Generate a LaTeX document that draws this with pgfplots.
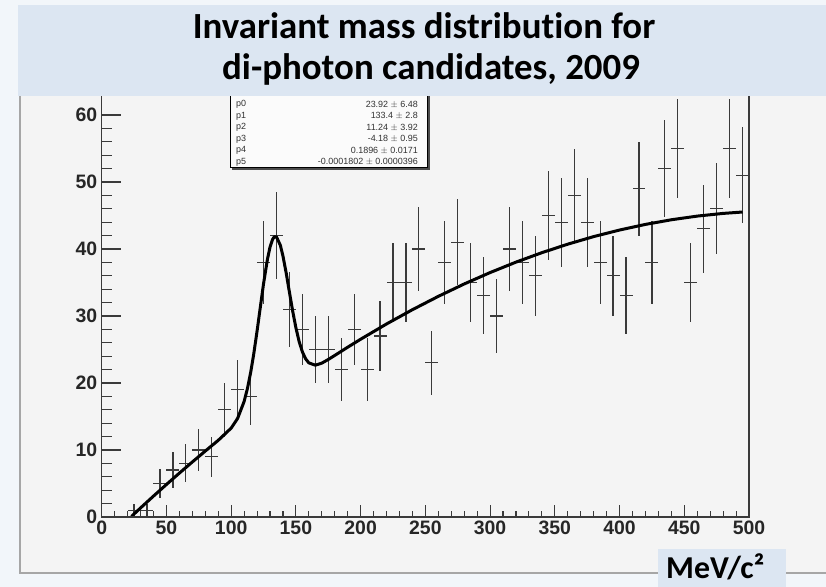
\documentclass[border=0pt]{standalone}
\usepackage{pgfplots}
\pgfplotsset{compat=1.18}
\usepackage{pgfplotstable}
\usepackage{fontspec}
\setmainfont{Liberation Sans}
\newfontfamily\carlito[Ligatures=NoCommon]{Carlito}
\definecolor{banner}{HTML}{DCE6F2}
\definecolor{canvas}{HTML}{F4F4F4}
\definecolor{slide}{HTML}{F2F6FA}
\definecolor{ink}{HTML}{3A3A3A}

\pgfplotstableread{
x y ex ey
25 1 5 1
35 1 5 1
45 5 5 2.236
55 7 5 2.646
65 8 5 2.828
75 10 5 3.162
85 9 5 3
95 16 5 4
105 19 5 4.359
115 18 5 4.243
125 38 5 6.164
135 42 5 6.481
145 31 5 5.568
155 28 5 5.292
165 25 5 5
175 25 5 5
185 22 5 4.690
195 28 5 5.292
205 22 5 4.690
215 27 5 5.196
225 35 5 5.916
235 35 5 5.916
245 40 5 6.325
255 23 5 4.796
265 38 5 6.164
275 41 5 6.403
285 35 5 5.916
295 33 5 5.745
305 30 5 5.477
315 40 5 6.325
325 38 5 6.164
335 36 5 6
345 45 5 6.708
355 44 5 6.633
365 48 5 6.928
375 44 5 6.633
385 38 5 6.164
395 36 5 6
405 33 5 5.745
415 49 5 7
425 38 5 6.164
435 52 5 7.211
445 55 5 7.416
455 35 5 5.916
465 43 5 6.557
475 46 5 6.782
485 55 5 7.416
495 51 5 7.141
}\histdata

\pgfplotstableread{
x y
23 0.09
25 0.45
30 1.35
40 3.12
50 4.85
60 6.55
70 8.21
80 9.84
90 11.44
100 13.27
105 14.72
110 17.24
112.5 19.12
115 21.51
117.5 24.41
120 27.73
122.5 31.29
125 34.80
128 38.45
130 40.27
132 41.44
133.4 41.83
135 41.81
138 40.55
140 38.96
142.5 36.42
145 33.56
147.5 30.75
150 28.25
152.5 26.19
155 24.65
157.5 23.61
160 23.00
165 22.66
170 22.96
175 23.51
180 24.11
190 25.34
200 26.53
220 28.81
240 30.94
260 32.93
280 34.78
300 36.48
320 38.04
340 39.45
360 40.72
380 41.85
400 42.83
420 43.67
440 44.36
460 44.91
480 45.31
495 45.52
}\fitdata

\begin{document}
\begin{tikzpicture}[x=1bp,y=1bp]
\useasboundingbox (0,0) rectangle (826,587);
\fill[slide] (0,0) rectangle (826,587);
% canvas
\fill[canvas] (19,14) rectangle (826,582);
\draw[gray!70, line width=1.5bp] (20,500) -- (20,14) -- (826,14);

\pgfplotsset{
  rootaxis/.style={
    at={(101.7bp,70bp)}, anchor=south west,
    scale only axis, width=647.3bp, height=442.2bp,
    xmin=0, xmax=500, ymin=0, ymax=66,
    axis line style={line width=1.2bp, color=ink},
    tick style={line width=1.1bp, color=ink},
    tick pos=left, tick align=inside,
    /pgf/number format/assume math mode=true,
    ticklabel style={font=\bfseries\fontsize{19.5}{19.5}\selectfont, color=black!85},
  }
}
\begin{axis}[rootaxis,
  xtick=\empty,
  ytick={0,10,...,60}, minor y tick num=4,
  major tick length=19bp, minor tick length=10bp,
  yticklabel style={xshift=-1bp},
]
\addplot[draw=none, mark=none, forget plot,
  error bars/.cd, x dir=both, x explicit, y dir=both, y explicit,
  error mark=none, error bar style={draw=ink, line width=1.2bp}]
  table[x=x, y=y, x error=ex, y error=ey] {\histdata};
\addplot[black, line width=3bp, line join=round, mark=none] table[x=x, y=y] {\fitdata};
\end{axis}
\begin{axis}[rootaxis,
  ytick=\empty,
  xtick={0,50,...,500}, minor x tick num=4,
  major tick length=12bp, minor tick length=6bp,
]
\end{axis}

% stats box
\fill[black!70] (232,417) rectangle (430,500);
\filldraw[fill=white!97!gray, draw=black, line width=1bp] (230,419) rectangle (427,502);
\begin{scope}[every node/.style={font=\fontsize{9}{9}\selectfont, color=black!80, inner sep=0pt}]
\foreach \n/\v/\yy in {p0/{23.92 $\pm$ 6.48}/482.3, p1/{133.4 $\pm$ 2.8}/470.8, p2/{11.24 $\pm$ 3.92}/459.3, p3/{-4.18 $\pm$ 0.95}/447.8, p4/{0.1896 $\pm$ 0.0171}/436.3, p5/{-0.0001802 $\pm$ 0.0000396}/424.8}{
  \node[anchor=west] at (236,\yy) {\n};
  \node[anchor=east] at (418,\yy) {\v};
}
\end{scope}

% banner
\fill[banner] (18,491) rectangle (826,582);
\node[font=\carlito\bfseries\fontsize{37}{37}\selectfont, anchor=base, inner sep=0pt] at (424,548) {Invariant mass distribution for};
\node[font=\carlito\bfseries\fontsize{37}{37}\selectfont, anchor=base, inner sep=0pt] at (431,507) {di-photon candidates, 2009};

% unit box
\fill[banner] (658,0) rectangle (786,38);
\node[font=\carlito\bfseries\fontsize{32}{32}\selectfont, anchor=base west, inner sep=0pt] at (666,8.5) {MeV/c²};
\end{tikzpicture}
\end{document}
